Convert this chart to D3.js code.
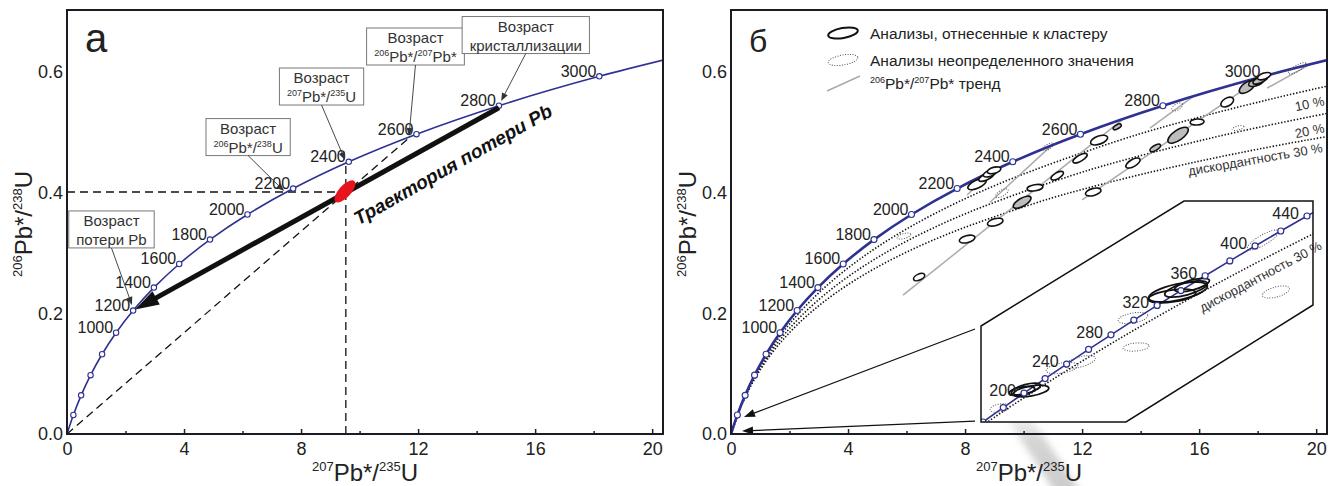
<!DOCTYPE html>
<html>
<head>
<meta charset="utf-8">
<script src="https://d3js.org/d3.v7.min.js"></script>
<style>
  body { margin: 0; background: #fff; }
  svg text { font-family: "Liberation Sans", Arial, sans-serif; fill: #222; }
</style>
</head>
<body>
<script>
//concordia: ages (Ma) and isotope ratios
var concAges = [0, 200, 400, 600, 800, 1000, 1200, 1400, 1600, 1800, 2000, 2200, 2400, 2600, 2800, 3000, 3200];
var concX = [0, 0.2177, 0.4828, 0.8056, 1.1987, 1.6774, 2.2604, 2.9701, 3.8344, 4.8867, 6.1683, 7.7293, 9.6297, 11.944, 14.762, 18.193, 22.371];
var concY = [0, 0.03151, 0.06402, 0.09754, 0.13213, 0.16781, 0.20460, 0.24258, 0.28173, 0.32210, 0.36374, 0.40673, 0.45107, 0.49678, 0.54398, 0.59265, 0.64279];
var concLabelAges = [1000, 1200, 1400, 1600, 1800, 2000, 2200, 2400, 2600, 2800, 3000];

//inset concordia (young ages)
var insetAges = [160, 180, 200, 220, 240, 260, 280, 300, 320, 340, 360, 380, 400, 420, 440, 460];
var insetX = [0.17068, 0.19396, 0.21771, 0.24193, 0.26663, 0.29183, 0.31753, 0.34374, 0.37046, 0.39773, 0.42553, 0.45389, 0.48282, 0.51231, 0.54242, 0.57307];
var insetY = [0.025131, 0.028316, 0.031511, 0.034717, 0.037932, 0.041157, 0.044392, 0.047637, 0.050893, 0.054158, 0.057434, 0.060719, 0.064017, 0.067322, 0.070638, 0.073965];
var insetLabelAges = [200, 240, 280, 320, 360, 400, 440];

//discordance curves
var disc10X = [0, 0.4381, 1.0846, 2.0394, 3.4488, 5.5319, 8.6092, 13.155, 16.186, 19.873, 24.357];
var disc10Y = [0, 0.05809, 0.11956, 0.18459, 0.25340, 0.32621, 0.40326, 0.48477, 0.52728, 0.57102, 0.61601];
var disc20X = [0, 0.3936, 0.9718, 1.8219, 3.0720, 4.9126, 7.6220, 11.610, 14.264, 17.484, 21.395];
var disc20Y = [0, 0.05220, 0.10712, 0.16491, 0.22572, 0.28969, 0.35702, 0.42785, 0.46464, 0.50238, 0.54110];
var disc30X = [0, 0.3568, 0.8787, 1.6435, 2.7644, 4.4096, 6.8242, 10.369, 12.721, 15.573, 19.031, 23.218];
var disc30Y = [0, 0.04731, 0.09686, 0.14876, 0.20312, 0.26003, 0.31965, 0.38208, 0.41440, 0.44749, 0.48132, 0.51595];
var insetDisc30X = [0.17700, 0.19428, 0.23894, 0.28574, 0.33481, 0.38625, 0.44019, 0.49677, 0.55596];
var insetDisc30Y = [0.025290, 0.027519, 0.033113, 0.038737, 0.044392, 0.050078, 0.055795, 0.061543, 0.067322];

//analyses [x, y, semi-axis a, semi-axis b (x units), tilt deg]
var clusterOpen = [
    [6.43, 0.260, 0.205, 0.103, -25], [8.07, 0.323, 0.274, 0.120, -15], [9.03, 0.351, 0.274, 0.120, -15],
    [10.39, 0.408, 0.274, 0.103, -10], [11.15, 0.428, 0.239, 0.103, -30], [11.93, 0.457, 0.274, 0.103, -30],
    [12.58, 0.487, 0.308, 0.137, -20], [12.38, 0.401, 0.274, 0.120, -15], [13.74, 0.449, 0.274, 0.120, -30],
    [15.93, 0.517, 0.239, 0.103, -5], [16.96, 0.550, 0.239, 0.137, -30], [18.22, 0.593, 0.239, 0.103, -20],
    [8.41, 0.414, 0.342, 0.137, -25], [8.72, 0.426, 0.274, 0.103, -25], [8.85, 0.432, 0.239, 0.103, -20],
    [8.99, 0.437, 0.239, 0.103, -15]
];
var clusterShaded = [
    [9.95, 0.384, 0.342, 0.137, -30], [13.20, 0.509, 0.154, 0.068, -30], [14.50, 0.474, 0.205, 0.085, -30],
    [15.28, 0.495, 0.410, 0.171, -35], [17.64, 0.575, 0.308, 0.154, -35], [17.95, 0.583, 0.274, 0.120, -20],
    [18.09, 0.587, 0.274, 0.103, -25]
];
var uncertain = [
    [5.91, 0.328, 0.239, 0.085, -15], [9.26, 0.399, 0.239, 0.103, -30], [10.84, 0.476, 0.205, 0.085, -30],
    [15.25, 0.542, 0.205, 0.103, -30], [17.33, 0.507, 0.205, 0.068, -15], [19.35, 0.606, 0.342, 0.103, -30]
];
var insetCluster = [
    [0.22575, 0.031979, 0.02065, 0.00574, -10], [0.21543, 0.031979, 0.01492, 0.00459, -10],
    [0.22001, 0.03242, 0.01721, 0.00516, -15], [0.39441, 0.053848, 0.03442, 0.00918, -12],
    [0.40359, 0.05451, 0.02524, 0.00688, -15], [0.41047, 0.055394, 0.02065, 0.00574, -15],
    [0.38752, 0.052964, 0.02754, 0.00688, -8]
];
var insetUncertain = [
    [0.19018, 0.028224, 0.01147, 0.00459, -10], [0.26132, 0.037059, 0.01836, 0.00574, -10],
    [0.28197, 0.038385, 0.01836, 0.00574, -15], [0.34278, 0.048104, 0.01721, 0.00574, -10],
    [0.34622, 0.041698, 0.01492, 0.00459, -5], [0.50684, 0.053848, 0.01606, 0.00574, -15],
    [0.49193, 0.065335, 0.02065, 0.00574, -30]
];

//206/207 trend segments
var trends = [
    [[5.88, 0.230], [13.42, 0.5226]], [[12.0, 0.388], [18.19, 0.5927]], [[14.32, 0.507], [15.8, 0.5594]],
    [[18.32, 0.573], [19.79, 0.6126]], [[8.85, 0.384], [10.96, 0.4783]], [[8.07, 0.396], [8.92, 0.4354]]
];

//panel a: measured point, guide lines, Pb loss trajectory
var redPoint = [9.50, 0.402];
var guideLines = [[[0, 0.401], [9.40, 0.401]], [[9.53, 0], [9.53, 0.448]], [[0, 0], [11.73, 0.4924]]];
var lossStart = [14.762, 0.54398], lossEnd = [2.2604, 0.2046];

var xTicks = [0, 4, 8, 12, 16, 20], xMinor = [2, 6, 10, 14, 18], yTicks = [0, 0.2, 0.4, 0.6];

var blue = "#2e3192";

var svg = d3.select("body").append("svg").attr("width", 1338).attr("height", 486);
var defs = svg.append("defs");

var xDom = [0, 20.37], yDom = [0, 0.7026];
var xA = d3.scaleLinear().domain(xDom).range([67, 663]);
var xB = d3.scaleLinear().domain(xDom).range([731, 1327]);
var y = d3.scaleLinear().domain(yDom).range([434, 10]);
var xI = d3.scaleLinear().domain([0.17068, 0.54242]).range([983, 1307]);
var yI = d3.scaleLinear().domain([0.025131, 0.070638]).range([422, 216]);

//scan shadow at bottom of panel b
var grad = defs.append("linearGradient").attr("id", "shade").attr("x1", 0).attr("y1", 0).attr("x2", 0).attr("y2", 1);
grad.append("stop").attr("offset", "0").attr("stop-color", "#aaa").attr("stop-opacity", 0);
grad.append("stop").attr("offset", "0.35").attr("stop-color", "#aaa").attr("stop-opacity", 0.5);
grad.append("stop").attr("offset", "1").attr("stop-color", "#aaa").attr("stop-opacity", 0.6);
defs.append("filter").attr("id", "blur").append("feGaussianBlur").attr("stdDeviation", 3.5);
svg.append("polygon").attr("points", "1002,410 1026,410 1082,494 1056,494")
    .attr("fill", "url(#shade)").attr("filter", "url(#blur)");

[["clipA", xA], ["clipB", xB]].forEach(function(c){
    defs.append("clipPath").attr("id", c[0]).append("rect")
        .attr("x", c[1].range()[0]).attr("y", 10)
        .attr("width", c[1].range()[1] - c[1].range()[0]).attr("height", 424);
});

function pts(xs, ys){ return xs.map(function(v, i){ return [v, ys[i]]; }); }

function lineGen(xs, ys){
    return d3.line().x(function(d){ return xs(d[0]); }).y(function(d){ return ys(d[1]); })
        .curve(d3.curveCatmullRom.alpha(0.5));
}

function rich(sel, parts, size, sup){
    var raised = false;
    parts.forEach(function(p){
        var t = sel.append("tspan").text(p[0]);
        if (p[1]) {
            t.attr("font-size", sup).attr("dy", raised ? 0 : -size * 0.4);
            raised = true;
        } else {
            t.attr("font-size", size).attr("dy", raised ? size * 0.4 : 0);
            raised = false;
        }
    });
    return sel;
}

function arrow(g, x1, y1, x2, y2, len, hw, color, width){
    var dx = x2 - x1, dy = y2 - y1, L = Math.sqrt(dx * dx + dy * dy), ux = dx / L, uy = dy / L;
    var bx = x2 - ux * len, by = y2 - uy * len;
    g.append("line").attr("x1", x1).attr("y1", y1).attr("x2", bx + ux).attr("y2", by + uy)
        .attr("stroke", color).attr("stroke-width", width);
    g.append("polygon")
        .attr("points", [[x2, y2], [bx - uy * hw, by + ux * hw], [bx + uy * hw, by - ux * hw]].map(function(p){ return p.join(","); }).join(" "))
        .attr("fill", color);
}

function ellipses(g, list, xs, ys, fill, stroke, width, dash){
    var k = xs(1) - xs(0);
    g.selectAll(null).data(list).enter().append("ellipse")
        .attr("rx", function(d){ return d[2] * k; })
        .attr("ry", function(d){ return d[3] * k; })
        .attr("transform", function(d){ return "translate(" + xs(d[0]) + "," + ys(d[1]) + ") rotate(" + d[4] + ")"; })
        .attr("fill", fill).attr("stroke", stroke).attr("stroke-width", width)
        .attr("stroke-dasharray", dash || null);
}

function concordia(g, xs, width, r){
    var data = pts(concX, concY);
    g.append("path").attr("d", lineGen(xs, y)(data)).attr("fill", "none")
        .attr("stroke", blue).attr("stroke-width", width);
    g.selectAll(null).data(data.filter(function(d, i){ return concAges[i] > 0 && concAges[i] <= 3000; }))
        .enter().append("circle")
        .attr("cx", function(d){ return xs(d[0]); }).attr("cy", function(d){ return y(d[1]); })
        .attr("r", r).attr("fill", "#fff").attr("stroke", blue).attr("stroke-width", 1.1);
}

function ageLabels(g, xs){
    concLabelAges.forEach(function(a){
        var i = concAges.indexOf(a);
        g.append("text").attr("x", xs(concX[i]) - 3).attr("y", y(concY[i]) + 0.5)
            .attr("text-anchor", "end").attr("font-size", 16).text(a);
    });
}

function axes(xs, letter, letterSize){
    var left = xs.range()[0], right = xs.range()[1];
    var ax = svg.append("g").attr("transform", "translate(0,434)")
        .call(d3.axisBottom(xs).tickValues(xTicks).tickSize(-5).tickPadding(8).tickFormat(d3.format("d")));
    ax.attr("font-size", null).attr("font-family", null).style("color", "#222");
    ax.select(".domain").remove();
    ax.selectAll("text").attr("font-size", 18);
    ax.selectAll("line").attr("stroke-width", 1.5);
    var mn = svg.append("g").attr("transform", "translate(0,434)")
        .call(d3.axisBottom(xs).tickValues(xMinor).tickSize(-3).tickFormat(""));
    mn.style("color", "#222");
    mn.select(".domain").remove();
    mn.selectAll("line").attr("stroke-width", 1.5);

    var ay = svg.append("g").attr("transform", "translate(" + left + ",0)")
        .call(d3.axisLeft(y).tickValues(yTicks).tickSize(0).tickPadding(4).tickFormat(d3.format(".1f")));
    ay.attr("font-size", null).attr("font-family", null);
    ay.select(".domain").remove();
    ay.selectAll("text").attr("font-size", 18);

    svg.append("rect").attr("x", left).attr("y", 10).attr("width", right - left).attr("height", 424)
        .attr("fill", "none").attr("stroke", "#1b1b24").attr("stroke-width", 2);

    rich(svg.append("text").attr("x", (left + right) / 2).attr("y", 481).attr("text-anchor", "middle"),
        [["207", 1], ["Pb*/", 0], ["235", 1], ["U", 0]], 24, 13);
    rich(svg.append("text").attr("text-anchor", "middle")
        .attr("transform", "translate(" + (left - 35) + ",224) rotate(-90)"),
        [["206", 1], ["Pb*/", 0], ["238", 1], ["U", 0]], 24, 13);

    svg.append("text").attr("x", left + 18).attr("y", 52).attr("font-size", letterSize).text(letter);
}

// ---------------- panel а ----------------
var gA = svg.append("g").attr("clip-path", "url(#clipA)");
guideLines.forEach(function(l){
    gA.append("line").attr("x1", xA(l[0][0])).attr("y1", y(l[0][1]))
        .attr("x2", xA(l[1][0])).attr("y2", y(l[1][1]))
        .attr("stroke", "#111").attr("stroke-width", 1.3).attr("stroke-dasharray", "8,5");
});
concordia(gA, xA, 1.6, 2.7);
arrow(gA, xA(lossStart[0]), y(lossStart[1]) + 2, xA(lossEnd[0]) + 2, y(lossEnd[1]) - 1, 24, 7.5, "#111", 5);
gA.append("ellipse").attr("rx", 14).attr("ry", 6)
    .attr("transform", "translate(" + xA(redPoint[0]) + "," + y(redPoint[1]) + ") rotate(-47)")
    .attr("fill", "#e8141c");
svg.append("text").attr("text-anchor", "middle").attr("font-size", 19)
    .attr("font-weight", "bold").attr("font-style", "italic").style("fill", "#111")
    .attr("transform", "translate(" + xA(13.3) + "," + y(0.437) + ") rotate(-29.5)")
    .text("Траектория потери Pb");
ageLabels(svg, xA);

var callouts = [
    { lines: [[["Возраст", 0]], [["потери Pb", 0]]], x: 1.52, y: 0.339, tx: 2.22, ty: 0.2138 },
    { lines: [[["Возраст", 0]], [["206", 1], ["Pb*/", 0], ["238", 1], ["U", 0]]], x: 6.19, y: 0.492, tx: 7.42, ty: 0.4026 },
    { lines: [[["Возраст", 0]], [["207", 1], ["Pb*/", 0], ["235", 1], ["U", 0]]], x: 8.70, y: 0.5758, tx: 9.50, ty: 0.454 },
    { lines: [[["Возраст", 0]], [["206", 1], ["Pb*/", 0], ["207", 1], ["Pb*", 0]]], x: 11.91, y: 0.6421, tx: 11.69, ty: 0.4938 },
    { lines: [[["Возраст", 0]], [["кристаллизации", 0]]], x: 15.68, y: 0.6611, tx: 14.84, ty: 0.5518 }
];
callouts.forEach(function(c){
    var cx = xA(c.x), cy = y(c.y), h = 37;
    var g = svg.append("g");
    var box = g.append("rect").attr("fill", "#fff").attr("stroke", "#777").attr("stroke-width", 1);
    var w = 0;
    c.lines.forEach(function(parts, i){
        var t = rich(g.append("text").attr("x", cx).attr("y", cy - h / 2 + 15 + i * 19)
            .attr("text-anchor", "middle").style("fill", "#333"), parts, 15, 9);
        w = Math.max(w, t.node().getBBox().width);
    });
    w += 15;
    box.attr("x", cx - w / 2).attr("y", cy - h / 2).attr("width", w).attr("height", h);
    arrow(g, cx, cy + h / 2, xA(c.tx), y(c.ty), 8, 3.2, "#333", 0.9);
});

axes(xA, "а", 40);

// ---------------- panel б ----------------
var gB = svg.append("g").attr("clip-path", "url(#clipB)");
[[disc10X, disc10Y], [disc20X, disc20Y], [disc30X, disc30Y]].forEach(function(dc){
    gB.append("path").attr("d", lineGen(xB, y)(pts(dc[0], dc[1]))).attr("fill", "none")
        .attr("stroke", "#111").attr("stroke-width", 1.6).attr("stroke-dasharray", "1.4,1.8");
});
trends.forEach(function(t){
    gB.append("line").attr("x1", xB(t[0][0])).attr("y1", y(t[0][1]))
        .attr("x2", xB(t[1][0])).attr("y2", y(t[1][1]))
        .attr("stroke", "#aaa").attr("stroke-width", 1.5);
});
concordia(gB, xB, 2.6, 3);
ellipses(gB, uncertain, xB, y, "none", "#555", 1, "1,1.5");
ellipses(gB, clusterShaded, xB, y, "#bdbdbd", "#111", 1.6);
ellipses(gB, clusterOpen, xB, y, "#fff", "#111", 1.6);
ageLabels(svg, xB);

[["10 %", 20.3, 0.5452, -12], ["20 %", 20.3, 0.5004, -12], ["дискордантность 30 %", 20.24, 0.4673, -10]].forEach(function(l){
    svg.append("text").attr("text-anchor", "end").attr("font-size", 13).style("fill", "#333")
        .attr("transform", "translate(" + xB(l[1]) + "," + y(l[2]) + ") rotate(" + l[3] + ")").text(l[0]);
});

//legend
var lg = svg.append("g");
lg.append("ellipse").attr("cx", 0).attr("cy", 0).attr("rx", 15).attr("ry", 5)
    .attr("transform", "translate(843,33) rotate(-10)").attr("fill", "none").attr("stroke", "#111").attr("stroke-width", 2);
lg.append("ellipse").attr("cx", 0).attr("cy", 0).attr("rx", 15).attr("ry", 5)
    .attr("transform", "translate(843,60) rotate(-10)").attr("fill", "none").attr("stroke", "#555")
    .attr("stroke-width", 1).attr("stroke-dasharray", "1,1.5");
lg.append("line").attr("x1", 827).attr("y1", 91).attr("x2", 860).attr("y2", 76).attr("stroke", "#aaa").attr("stroke-width", 1.5);
lg.append("text").attr("x", 870).attr("y", 38.5).attr("font-size", 15.5).text("Анализы, отнесенные к кластеру");
lg.append("text").attr("x", 870).attr("y", 65.5).attr("font-size", 15.5).text("Анализы неопределенного значения");
rich(lg.append("text").attr("x", 870).attr("y", 89), [["206", 1], ["Pb*/", 0], ["207", 1], ["Pb* тренд", 0]], 15.5, 9);

//inset arrows to origin
[[[8.34, 0.174], [0.444, 0.0282]], [[8.34, 0.0215], [0.376, 0.005]]].forEach(function(a){
    arrow(svg, xB(a[0][0]), y(a[0][1]), xB(a[1][0]), y(a[1][1]), 11, 4, "#111", 1.3);
});

//inset
var insetFrame = [[0.16839, 0.025131], [0.16839, 0.046337], [0.40129, 0.073949], [0.54929, 0.073949], [0.54929, 0.050976], [0.33475, 0.025131]];
var hexPath = "M" + insetFrame.map(function(p){ return xI(p[0]) + "," + yI(p[1]); }).join("L") + "Z";
defs.append("clipPath").attr("id", "clipI").append("path").attr("d", hexPath);
svg.append("path").attr("d", hexPath).attr("fill", "#fff");
var gI = svg.append("g").attr("clip-path", "url(#clipI)");
gI.append("path").attr("d", lineGen(xI, yI)(pts(insetDisc30X, insetDisc30Y))).attr("fill", "none")
    .attr("stroke", "#111").attr("stroke-width", 1.6).attr("stroke-dasharray", "1.4,1.8");
var insetData = pts(insetX, insetY);
gI.append("path").attr("d", lineGen(xI, yI)(insetData)).attr("fill", "none")
    .attr("stroke", blue).attr("stroke-width", 1.6);
ellipses(gI, insetUncertain, xI, yI, "none", "#555", 1, "1,1.5");
ellipses(gI, insetCluster, xI, yI, "none", "#111", 1.8);
gI.selectAll(null).data(insetData.filter(function(d, i){ return insetAges[i] <= 440; })).enter().append("circle")
    .attr("cx", function(d){ return xI(d[0]); }).attr("cy", function(d){ return yI(d[1]); })
    .attr("r", 3).attr("fill", "#fff").attr("stroke", blue).attr("stroke-width", 1.2);
insetLabelAges.forEach(function(a){
    var i = insetAges.indexOf(a);
    svg.append("text").attr("x", xI(insetX[i]) - 8).attr("y", yI(insetY[i]) + 3)
        .attr("text-anchor", "end").attr("font-size", 16).text(a);
});
svg.append("text").attr("font-size", 13).style("fill", "#333")
    .attr("transform", "translate(" + xI(0.4225) + "," + yI(0.0493) + ") rotate(-28)")
    .text("дискордантность 30 %");
svg.append("path").attr("d", hexPath).attr("fill", "none").attr("stroke", "#111").attr("stroke-width", 1.5);

axes(xB, "б", 32);
</script>
</body>
</html>
